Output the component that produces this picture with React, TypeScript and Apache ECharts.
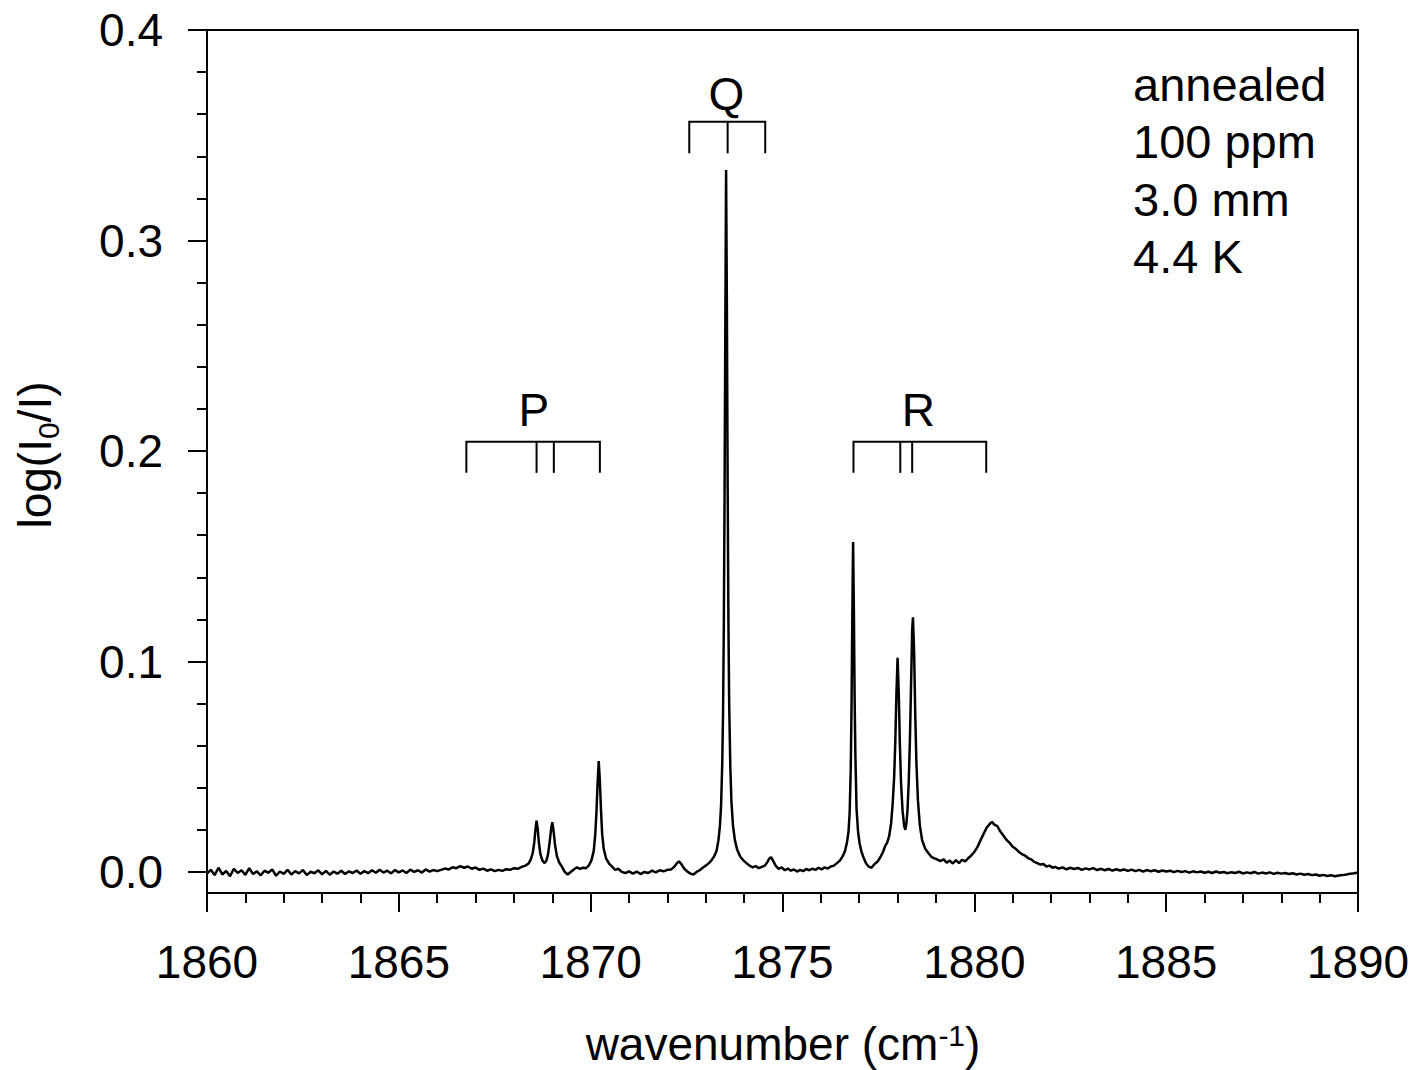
import React, { useEffect, useRef } from "react";
import * as echarts from "echarts";

// ---- spectrum values (wavenumber in cm-1, absorbance log(I0/I)) ----
// uniform baseline samples
const baselineLeftStart = 1860.0;
const baselineStep = 0.1;
const baselineLeft = [
  -0.0008, 0.001, -0.0015, 0.002, -0.0012, 0.0005, -0.002, 0.0015, -0.0005, 0.0008,
  -0.0014, 0.0018, -0.001, 0.0003, -0.0016, 0.0006, -0.0004, 0.0012, -0.0018, 0.0002,
  -0.0009, 0.001, -0.0012, 0.0004, -0.0007, 0.0009, -0.0015, 0.0001, -0.0006, 0.0008,
  -0.0011, 0.0005, -0.0013, 0.0002, -0.0008, 0.0006, -0.001, 0.0003, -0.0005, 0.0007,
  -0.0009, 0.0004, -0.0006, 0.0008, -0.0004, 0.001, -0.0003, 0.0006, -0.0007, 0.0009,
  -0.0002, 0.0007, -0.0005, 0.0011, 0.0, 0.0008, -0.0003, 0.0012, 0.0002, 0.0009, 0.0004,
  0.001, 0.0016, 0.0012, 0.0022, 0.0018, 0.0028, 0.002, 0.0026, 0.0015, 0.0021, 0.001,
  0.0016, 0.0006, 0.0012, 0.0004, 0.001, 0.0005, 0.0013, 0.001, 0.0018, 0.0015, 0.0024,
];

const pBand: [number, number][] = [
  [1868.3, 0.003], [1868.38, 0.004], [1868.44, 0.006], [1868.49, 0.009], [1868.53, 0.014],
  [1868.56, 0.02], [1868.59, 0.0244], [1868.62, 0.0205], [1868.65, 0.014], [1868.69, 0.0085],
  [1868.74, 0.0055], [1868.8, 0.0042], [1868.85, 0.0055], [1868.89, 0.0085], [1868.93, 0.014],
  [1868.97, 0.0205], [1869.0, 0.0236], [1869.03, 0.02], [1869.07, 0.013], [1869.12, 0.0075],
  [1869.18, 0.0045], [1869.25, 0.0025], [1869.32, 0.0002], [1869.4, -0.0012], [1869.48, 0.0],
  [1869.56, 0.0012], [1869.64, 0.0022], [1869.72, 0.0015], [1869.8, 0.002], [1869.88, 0.0018],
  [1869.95, 0.003], [1870.02, 0.0055], [1870.08, 0.01], [1870.12, 0.018], [1870.15, 0.028],
  [1870.18, 0.042], [1870.21, 0.0527], [1870.24, 0.043], [1870.27, 0.029], [1870.3, 0.018],
  [1870.34, 0.011], [1870.4, 0.0065], [1870.48, 0.004], [1870.56, 0.0025], [1870.64, 0.001],
  [1870.72, 0.0015], [1870.8, 0.0002],
];

const baselineMidStart = 1870.9;
const baselineMid = [
  -0.0006, 0.0003, -0.0008, 0.0002, -0.001, 0.0, -0.0005, 0.0006, -0.0002, 0.0008, 0.0003, 0.001,
];

const qBand: [number, number][] = [
  [1872.1, 0.0012], [1872.18, 0.0025], [1872.25, 0.0042], [1872.3, 0.005], [1872.36, 0.0038],
  [1872.44, 0.0015], [1872.52, 0.0002], [1872.6, -0.0008], [1872.68, -0.0012], [1872.76, 0.0],
  [1872.84, 0.0008], [1872.92, 0.002], [1873.0, 0.003], [1873.08, 0.0042], [1873.15, 0.0055],
  [1873.22, 0.0075], [1873.28, 0.01], [1873.33, 0.015], [1873.37, 0.022], [1873.4, 0.032],
  [1873.43, 0.052], [1873.45, 0.075], [1873.47, 0.115], [1873.49, 0.18], [1873.51, 0.26],
  [1873.53, 0.3335], [1873.55, 0.27], [1873.57, 0.185], [1873.59, 0.12], [1873.61, 0.08],
  [1873.64, 0.05], [1873.67, 0.033], [1873.71, 0.022], [1873.76, 0.015], [1873.82, 0.0105],
  [1873.9, 0.0072], [1873.98, 0.0055], [1874.06, 0.0042], [1874.14, 0.003], [1874.22, 0.0022],
  [1874.3, 0.0028], [1874.38, 0.0018], [1874.46, 0.0024], [1874.54, 0.003], [1874.6, 0.0045],
  [1874.65, 0.0062], [1874.7, 0.007], [1874.75, 0.0055], [1874.82, 0.003], [1874.9, 0.0015],
  [1874.98, 0.0022],
];

const rBand: [number, number][] = [
  [1875.06, 0.0008], [1875.14, 0.0016], [1875.22, 0.0006], [1875.3, 0.0012], [1875.38, 0.0002],
  [1875.46, 0.001], [1875.54, 0.0004], [1875.62, 0.0014], [1875.7, 0.0008], [1875.78, 0.0016],
  [1875.86, 0.001], [1875.94, 0.002], [1876.02, 0.0012], [1876.1, 0.0022], [1876.18, 0.0016],
  [1876.26, 0.0026], [1876.34, 0.003], [1876.42, 0.0042], [1876.5, 0.0055], [1876.57, 0.0075],
  [1876.63, 0.01], [1876.68, 0.014], [1876.72, 0.019], [1876.75, 0.028], [1876.78, 0.05],
  [1876.8, 0.08], [1876.82, 0.122], [1876.84, 0.1568], [1876.86, 0.125], [1876.88, 0.082],
  [1876.9, 0.055], [1876.93, 0.03], [1876.97, 0.019], [1877.01, 0.0135], [1877.06, 0.0095],
  [1877.12, 0.0065], [1877.18, 0.004], [1877.25, 0.0025], [1877.32, 0.002], [1877.4, 0.0038],
  [1877.48, 0.005], [1877.55, 0.007], [1877.62, 0.0095], [1877.68, 0.0125], [1877.73, 0.014],
  [1877.78, 0.017], [1877.83, 0.023], [1877.87, 0.032], [1877.91, 0.045], [1877.94, 0.062],
  [1877.97, 0.085], [1878.0, 0.1018], [1878.03, 0.085], [1878.06, 0.06], [1878.09, 0.042],
  [1878.13, 0.029], [1878.17, 0.022], [1878.2, 0.02], [1878.23, 0.023], [1878.26, 0.03],
  [1878.29, 0.043], [1878.32, 0.062], [1878.35, 0.088], [1878.38, 0.115], [1878.4, 0.121],
  [1878.43, 0.105], [1878.46, 0.075], [1878.49, 0.052], [1878.53, 0.034], [1878.58, 0.022],
  [1878.64, 0.015], [1878.72, 0.011], [1878.8, 0.009], [1878.88, 0.0072], [1878.96, 0.0065],
  [1879.04, 0.0058], [1879.12, 0.0052], [1879.2, 0.006], [1879.28, 0.0044], [1879.36, 0.0054],
  [1879.44, 0.004], [1879.52, 0.0056], [1879.6, 0.0042], [1879.68, 0.0058], [1879.76, 0.005],
  [1879.84, 0.0065], [1879.92, 0.0078], [1880.0, 0.0095], [1880.08, 0.0118], [1880.16, 0.015],
  [1880.24, 0.018], [1880.32, 0.021], [1880.4, 0.0228], [1880.46, 0.0238], [1880.52, 0.0225],
  [1880.6, 0.0218], [1880.68, 0.0192], [1880.76, 0.0172], [1880.84, 0.0152], [1880.92, 0.0138],
  [1881.0, 0.012], [1881.08, 0.011], [1881.16, 0.0095], [1881.24, 0.0085], [1881.32, 0.0078],
  [1881.4, 0.0066], [1881.48, 0.006], [1881.56, 0.0048], [1881.64, 0.0042], [1881.72, 0.0035],
  [1881.8, 0.0038], [1881.88, 0.0026], [1881.96, 0.003], [1882.04, 0.002],
];

const baselineRightStart = 1882.1;
const baselineRight = [
  0.0024, 0.0016, 0.0022, 0.0012, 0.002, 0.0014, 0.0019, 0.001, 0.0017, 0.0012,
  0.0018, 0.0009, 0.0015, 0.0008, 0.0014, 0.0006, 0.0013, 0.0007, 0.0012, 0.0005,
  0.0011, 0.0004, 0.001, 0.0002, 0.0009, 0.0003, 0.0008, 0.0001, 0.0007, 0.0002,
  0.0006, -0.0001, 0.0005, 0.0, 0.0004, -0.0003, 0.0003, -0.0002, 0.0002, -0.0004,
  0.0001, -0.0005, 0.0002, -0.0004, 0.0, -0.0006, -0.0001, -0.0005, 0.0001, -0.0007,
  -0.0002, -0.0006, 0.0, -0.0008, -0.0003, -0.0007, -0.0002, -0.0009, -0.0004, -0.0008,
  -0.0005, -0.001, -0.0006, -0.0012, -0.0008, -0.0013, -0.001, -0.0015, -0.0012, -0.0018,
  -0.0014, -0.0019, -0.0016, -0.002, -0.0017, -0.0015, -0.0012, -0.0008, -0.0006, -0.0003,
];

// ---- axis ticks ----
const xTicks = [1860, 1865, 1870, 1875, 1880, 1885, 1890];
const yTicks = [0.0, 0.1, 0.2, 0.3, 0.4];

// ---- line assignments (P, Q, R branches) ----
const branchLabels = ["P", "Q", "R"];
const branchEnds = [
  [1866.76, 1870.24],
  [1872.57, 1874.55],
  [1876.85, 1880.31],
];
const branchInner = [[1868.59, 1869.04], [1873.57], [1878.07, 1878.38]];
const branchLevel = [0.2044, 0.3564, 0.2044];
const branchDrop = [0.1896, 0.3414, 0.1896];
const branchLabelX = [1868.52, 1873.54, 1878.54];
const branchLabelY = [0.2195, 0.3695, 0.2195];

const infoLines = ["annealed", "100 ppm", "3.0 mm", "4.4 K"];

const FONT = "'Liberation Sans', Arial, Helvetica, sans-serif";

function uniform(start: number, step: number, vals: number[]): [number, number][] {
  return vals.map((v, i) => [Math.round((start + i * step) * 1000) / 1000, v]);
}

export default function App() {
  const ref = useRef<HTMLDivElement>(null);
  useEffect(() => {
    if (!ref.current) return;
    const chart = echarts.init(ref.current, null, { renderer: "svg" });
    const spectrum: [number, number][] = [
      ...uniform(baselineLeftStart, baselineStep, baselineLeft),
      ...pBand,
      ...uniform(baselineMidStart, baselineStep, baselineMid),
      ...qBand,
      ...rBand,
      ...uniform(baselineRightStart, baselineStep, baselineRight),
    ];
    const black = "#000";
    const option: any = {
      animation: false,
      backgroundColor: "#fff",
      grid: [
        { left: 207, right: 58, top: 30, bottom: 177, show: true, borderColor: black, borderWidth: 2, backgroundColor: "transparent" },
        { left: 207, right: 58, top: 30, height: 842, show: false },
      ],
      xAxis: [
        {
          type: "value",
          gridIndex: 0,
          min: xTicks[0],
          max: xTicks[xTicks.length - 1],
          interval: 5,
          axisLine: { show: true, onZero: false, lineStyle: { color: black, width: 2 } },
          axisTick: { show: true, inside: false, length: 19, lineStyle: { color: black, width: 2 } },
          minorTick: { show: true, splitNumber: 5, length: 10, lineStyle: { color: black, width: 2 } },
          axisLabel: { show: true, fontSize: 46, color: black, fontFamily: FONT, margin: 46, formatter: (v: number) => String(v) },
          splitLine: { show: false },
          minorSplitLine: { show: false },
        },
        { type: "value", gridIndex: 1, min: 0, max: 1, show: false },
      ],
      yAxis: [
        {
          type: "value",
          gridIndex: 0,
          min: -0.01,
          max: 0.4,
          axisLine: { show: true, onZero: false, lineStyle: { color: black, width: 2 } },
          axisTick: { show: false },
          axisLabel: { show: false },
          splitLine: { show: false },
        },
        {
          type: "value",
          gridIndex: 1,
          min: yTicks[0],
          max: yTicks[yTicks.length - 1],
          interval: 0.1,
          axisLine: { show: false, onZero: false },
          axisTick: { show: true, inside: false, length: 19, lineStyle: { color: black, width: 2 } },
          minorTick: { show: true, splitNumber: 5, length: 10, lineStyle: { color: black, width: 2 } },
          axisLabel: { show: true, fontSize: 46, color: black, fontFamily: FONT, margin: 44, formatter: (v: number) => v.toFixed(1) },
          splitLine: { show: false },
          minorSplitLine: { show: false },
        },
      ],
      graphic: [
        ...infoLines.map((t, i) => ({
          type: "text",
          x: 1133,
          y: 84 + i * 57.5,
          style: { text: t, fill: black, fontSize: 47, fontFamily: FONT, align: "left", verticalAlign: "middle" },
        })),
        {
          type: "text",
          x: 783,
          y: 1044,
          style: {
            text: "{m|wavenumber (cm}{s|-1}{m|)}",
            fill: black,
            align: "center",
            verticalAlign: "middle",
            rich: {
              m: { fontSize: 46, fontFamily: FONT, lineHeight: 48, verticalAlign: "middle", fill: black },
              s: { fontSize: 30, fontFamily: FONT, lineHeight: 20, verticalAlign: "top", fill: black },
            },
          },
        },
        {
          type: "text",
          x: 35,
          y: 455,
          rotation: Math.PI / 2,
          style: {
            text: "{m|log(I}{s|0}{m|/I)}",
            fill: black,
            align: "center",
            verticalAlign: "middle",
            rich: {
              m: { fontSize: 46, fontFamily: FONT, lineHeight: 56, verticalAlign: "middle", fill: black },
              s: { fontSize: 30, fontFamily: FONT, lineHeight: 30, verticalAlign: "bottom", fill: black },
            },
          },
        },
      ],
      series: [
        {
          type: "line",
          xAxisIndex: 0,
          yAxisIndex: 0,
          data: spectrum,
          showSymbol: false,
          symbol: "none",
          lineStyle: { color: black, width: 2.5 },
          clip: true,
          z: 3,
        },
        {
          type: "custom",
          xAxisIndex: 0,
          yAxisIndex: 0,
          clip: false,
          data: branchLabels.map((_, i) => [branchEnds[i][0], branchLevel[i]]),
          encode: { x: 0, y: 1 },
          renderItem: (params: any, api: any) => {
            const i = params.dataIndex;
            const lvl = branchLevel[i];
            const drop = branchDrop[i];
            const [x0, x1] = branchEnds[i];
            const style = { stroke: black, lineWidth: 2, fill: "none" };
            const seg = (a: number[], b: number[]) => {
              const p = api.coord(a);
              const q = api.coord(b);
              return { type: "line", shape: { x1: p[0], y1: p[1], x2: q[0], y2: q[1] }, style };
            };
            const children: any[] = [
              {
                type: "polyline",
                shape: {
                  points: [api.coord([x0, drop]), api.coord([x0, lvl]), api.coord([x1, lvl]), api.coord([x1, drop])],
                },
                style,
              },
              ...branchInner[i].map((xi) => seg([xi, lvl], [xi, drop])),
            ];
            const lp = api.coord([branchLabelX[i], branchLabelY[i]]);
            children.push({
              type: "text",
              x: lp[0],
              y: lp[1],
              style: { text: branchLabels[i], fill: black, fontSize: 46, fontFamily: FONT, align: "center", verticalAlign: "middle" },
            });
            return { type: "group", children };
          },
          z: 4,
        },
      ],
    };
    chart.setOption(option);
    return () => chart.dispose();
  }, []);
  return <div ref={ref} style={{ position: "fixed", left: 0, top: 0, width: 1416, height: 1070 }} />;
}
